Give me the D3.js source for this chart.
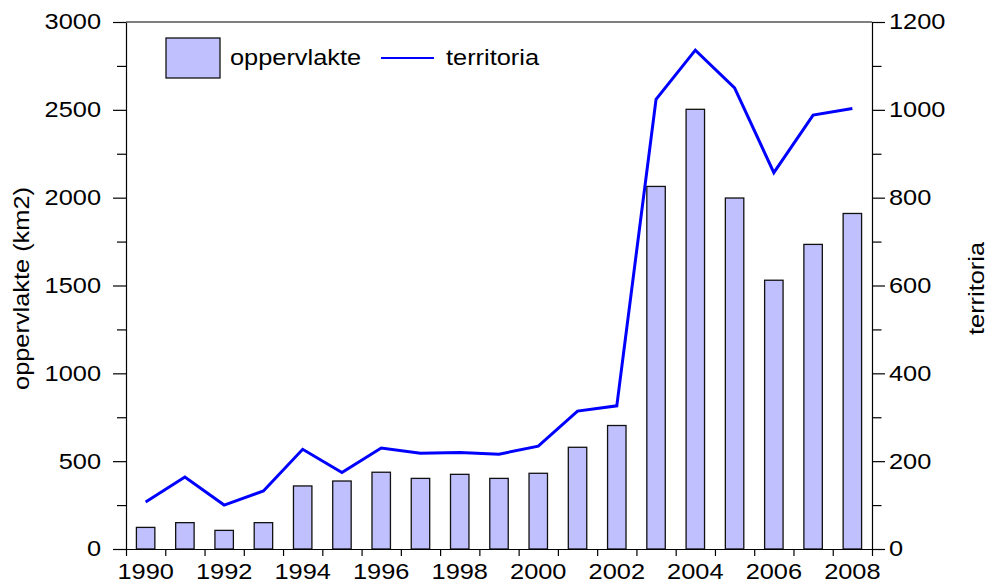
<!DOCTYPE html>
<html>
<head>
<meta charset="utf-8">
<script src="https://cdn.jsdelivr.net/npm/d3@7"></script>
<style>
  body { margin: 0; background: #fff; }
  svg text { font-family: "Liberation Sans", Arial, sans-serif; fill: #000; }
</style>
</head>
<body>
<div id="chart"></div>
<script>
const years = d3.range(1990, 2009);
const oppervlakte = [123, 150, 106, 150, 359, 387, 437, 402, 425, 402, 431, 579, 703, 2064, 2503, 1998, 1530, 1734, 1910];
const territoria = [107, 164, 100, 132, 227, 174, 230, 218, 220, 216, 234, 314, 326, 1024, 1136, 1050, 857, 988, 1003];
const leftTicks = [0, 500, 1000, 1500, 2000, 2500, 3000];
const rightTicks = [0, 200, 400, 600, 800, 1000, 1200];
const yearLabels = [1990, 1992, 1994, 1996, 1998, 2000, 2002, 2004, 2006, 2008];

const width = 990, height = 584;
const margin = { top: 22, right: 118, bottom: 35, left: 126 };
const fs = 21.5, sx = 1.18; // font looks horizontally stretched in the original

const svg = d3.select("#chart").append("svg")
  .attr("width", width)
  .attr("height", height);

const x = d3.scaleBand()
  .domain(years)
  .range([margin.left, width - margin.right])
  .padding(0);

const xEdge = d3.scaleLinear()
  .domain([1990, 2009])
  .range([margin.left, width - margin.right]);

const yLeft = d3.scaleLinear()
  .domain([0, 3000])
  .range([height - margin.bottom, margin.top]);

const yRight = d3.scaleLinear()
  .domain([0, 1200])
  .range([height - margin.bottom, margin.top]);

// bars
const barW = x.bandwidth() * 0.47;
svg.append("g")
  .selectAll("rect")
  .data(years)
  .join("rect")
  .attr("x", (d) => x(d) + (x.bandwidth() - barW) / 2)
  .attr("y", (d, i) => yLeft(oppervlakte[i]))
  .attr("width", barW)
  .attr("height", (d, i) => yLeft(0) - yLeft(oppervlakte[i]))
  .attr("fill", "#c0c0ff")
  .attr("stroke", "#111")
  .attr("stroke-width", 1.3);

// line
const line = d3.line()
  .x((d) => x(d) + x.bandwidth() / 2)
  .y((d, i) => yRight(territoria[i]));

svg.append("path")
  .datum(years)
  .attr("d", line)
  .attr("fill", "none")
  .attr("stroke", "#0000ff")
  .attr("stroke-width", 3)
  .attr("stroke-linejoin", "miter");

function styleAxis(g) {
  g.selectAll("path, line").attr("stroke", "#000").attr("stroke-width", 1.2);
}

// x axis ticks at year edges
svg.append("g")
  .attr("transform", `translate(0,${height - margin.bottom})`)
  .call(d3.axisBottom(xEdge).tickValues(d3.range(1990, 2010)).tickSize(7).tickSizeOuter(0).tickFormat(""))
  .call(styleAxis);

// x labels at band centers
svg.append("g")
  .selectAll("text")
  .data(yearLabels)
  .join("text")
  .attr("transform", (d) => `translate(${x(d) + x.bandwidth() / 2},${height - 5}) scale(${sx},1)`)
  .attr("text-anchor", "middle")
  .attr("font-size", fs)
  .text((d) => d);

// left axis
const leftG = svg.append("g")
  .attr("transform", `translate(${margin.left},0)`);
leftG.call(d3.axisLeft(yLeft).tickValues(d3.range(250, 3000, 500)).tickSize(9).tickSizeOuter(0).tickFormat(""))
  .call(styleAxis);
leftG.append("g")
  .call(d3.axisLeft(yLeft).tickValues(leftTicks).tickSize(13).tickSizeOuter(0).tickFormat(d3.format("d")))
  .call(styleAxis)
  .call((g) => g.select(".domain").remove())
  .call((g) => g.selectAll("text")
    .attr("font-size", fs)
    .attr("font-family", null)
    .attr("x", -25 / sx)
    .attr("transform", `scale(${sx},1)`));

// right axis
const rightG = svg.append("g")
  .attr("transform", `translate(${width - margin.right},0)`);
rightG.call(d3.axisRight(yRight).tickValues(d3.range(100, 1200, 200)).tickSize(9.5).tickSizeOuter(0).tickFormat(""))
  .call(styleAxis);
rightG.append("g")
  .call(d3.axisRight(yRight).tickValues(rightTicks).tickSize(13).tickSizeOuter(0).tickFormat(d3.format("d")))
  .call(styleAxis)
  .call((g) => g.select(".domain").remove())
  .call((g) => g.selectAll("text")
    .attr("font-size", fs)
    .attr("font-family", null)
    .attr("x", 17 / sx)
    .attr("transform", `scale(${sx},1)`));

// top frame line
svg.append("line")
  .attr("x1", margin.left).attr("x2", width - margin.right)
  .attr("y1", margin.top).attr("y2", margin.top)
  .attr("stroke", "#000").attr("stroke-width", 1.2);

// axis titles
const midY = (margin.top + height - margin.bottom) / 2 + 3;
svg.append("text")
  .attr("transform", `translate(29,${midY}) rotate(-90) scale(${sx},1)`)
  .attr("text-anchor", "middle")
  .attr("font-size", fs)
  .text("oppervlakte (km2)");

svg.append("text")
  .attr("transform", `translate(984,${midY}) rotate(-90) scale(${sx},1)`)
  .attr("text-anchor", "middle")
  .attr("font-size", fs)
  .text("territoria");

// legend
const legend = svg.append("g");
legend.append("rect")
  .attr("x", 166).attr("y", 38)
  .attr("width", 54).attr("height", 40)
  .attr("fill", "#c0c0ff")
  .attr("stroke", "#111")
  .attr("stroke-width", 1.3);
legend.append("text")
  .attr("transform", `translate(230,65) scale(${sx},1)`)
  .attr("font-size", fs)
  .text("oppervlakte");
legend.append("line")
  .attr("x1", 381).attr("x2", 434)
  .attr("y1", 58).attr("y2", 58)
  .attr("stroke", "#0000ff")
  .attr("stroke-width", 2);
legend.append("text")
  .attr("transform", `translate(446,65) scale(${sx},1)`)
  .attr("font-size", fs)
  .text("territoria");
</script>
</body>
</html>
